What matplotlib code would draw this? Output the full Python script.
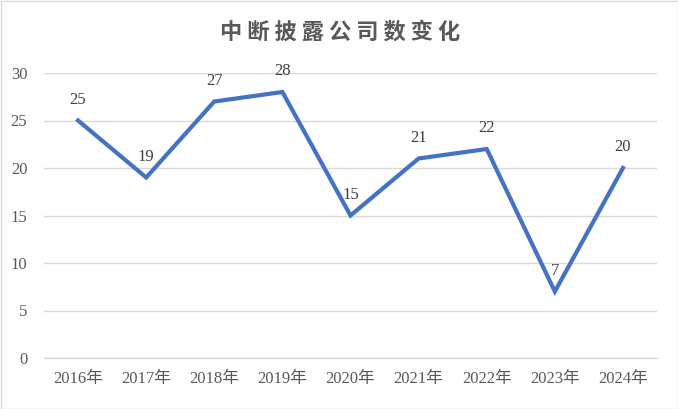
import matplotlib
matplotlib.use("Agg")
import matplotlib.pyplot as plt
from matplotlib.patches import Rectangle

years = ["2016年", "2017年", "2018年", "2019年", "2020年", "2021年", "2022年", "2023年", "2024年"]
counts = [25, 19, 27, 28, 15, 21, 22, 7, 20]
yticks = [0, 5, 10, 15, 20, 25, 30]
title = "中断披露公司数变化"

fam = ["Liberation Serif", "Noto Sans CJK SC", "DejaVu Sans"]
txt = "#595959"

fig = plt.figure(figsize=(6.78, 4.09), dpi=100)
ax = fig.add_axes([44/678, 1-358/409, (657-44)/678, (358-73)/409])

x = list(range(len(years)))
ax.plot(x, counts, color="#4472C4", linewidth=3, solid_joinstyle="miter", zorder=3)
for xi, v in zip(x, counts):
    ax.annotate(str(v), (xi, v), xytext=(0, 15), textcoords="offset points",
                ha="center", va="center", fontsize=12, color="#404040", family=fam)

ax.set_xlim(-0.5, len(years) - 0.5)
ax.set_ylim(0, 30)
ax.set_yticks(yticks)
ax.set_yticklabels([str(t) for t in yticks], family=fam, fontsize=12, color=txt)
ax.set_xticks(x)
ax.set_xticklabels(years, family=fam, fontsize=12, color=txt)
ax.tick_params(axis="both", length=0)
ax.tick_params(axis="y", pad=12)
ax.tick_params(axis="x", pad=9)
ax.grid(axis="y", color="#D9D9D9", linewidth=1)
ax.set_axisbelow(True)
for s in ["top", "right", "left"]:
    ax.spines[s].set_visible(False)
ax.spines["bottom"].set_color("#D9D9D9")
ax.spines["bottom"].set_linewidth(1)

fig.text(340/678, 1-32/409, " ".join(title), ha="center", va="center",
         fontsize=16, fontweight="bold", color=txt, family=["Noto Sans CJK SC", "DejaVu Sans"])

fig.patches.append(Rectangle((0.5/678, 0.5/409), 1-1/678, 1-1/409, transform=fig.transFigure,
                             fill=False, edgecolor="#D9D9D9", linewidth=1))

fig.savefig("out.png", dpi=100)
